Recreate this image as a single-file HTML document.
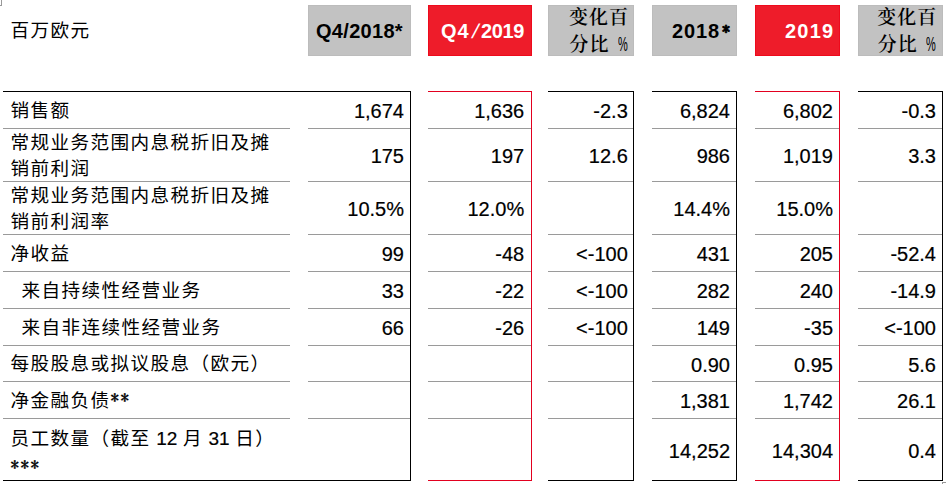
<!DOCTYPE html>
<html lang="zh"><head><meta charset="utf-8"><title>财务数据</title>
<style>
html,body{margin:0;padding:0;background:#fff}
body{width:946px;height:484px;position:relative;overflow:hidden;font-family:"Liberation Sans","Noto Sans CJK SC",sans-serif;color:#000}
.a{position:absolute}
.hl{position:absolute;height:1px}
.vl{position:absolute;width:1px}
.hd{position:absolute;top:5px;height:51px;box-sizing:border-box}
.hd.g{background:#c2c2c2;border:1px solid #bcbcbc}
.hd.r{background:#ee1c2a;border:1px solid #ee0a1c}
.ht{position:absolute;white-space:nowrap;font-weight:bold;font-size:20px;line-height:20px}
.hd.r .ht{color:#fff}
.sl{display:inline-block;font-weight:normal;transform:skewX(-13deg) scaleX(1.1);margin:0 2.7px 0 4px;letter-spacing:0}
.bs{font-family:"IPAGothic","Liberation Sans",sans-serif;font-weight:normal;font-size:16px;line-height:0;-webkit-text-stroke:.9px #000;position:relative;top:-3.5px;margin-left:2px;letter-spacing:0}
.hc{position:absolute;right:6px;white-space:nowrap;font-size:20px;line-height:26px;text-align:right;font-weight:600;word-spacing:3px;font-family:"Liberation Sans","Noto Serif CJK SC",serif}
.cj{font-size:19px;letter-spacing:1px}
.cj.e{margin-right:-1px}
.n{position:absolute;white-space:nowrap;font-size:20px;line-height:20px;text-align:right;-webkit-text-stroke:.2px #000}
.l{position:absolute;left:10.6px;white-space:nowrap;font-size:18.6px;letter-spacing:1.4px;line-height:26px}
.ind{display:inline-block;width:11px}
.dg{position:relative;top:0;font-size:19px;letter-spacing:0;-webkit-text-stroke:.2px #000}
.ast{font-family:"IPAGothic","Liberation Sans",sans-serif;font-size:17px;letter-spacing:1.5px;line-height:0;position:relative;top:-3px;-webkit-text-stroke:.35px #000}
.pc{display:inline-block;width:10px;height:20px;vertical-align:top;position:relative;font-weight:normal}
.pc i{position:absolute;left:0;top:-.5px;font-style:normal;transform:scaleX(.55);transform-origin:0 50%}

</style></head><body>
<div class="a" style="left:1px;top:0;width:1px;height:6px;background:#999"></div><div class="a" style="left:0;top:5px;width:2px;height:1px;background:#999"></div>
<div class="a" style="left:942px;top:482px;width:4px;height:1px;background:#999"></div><div class="a" style="left:942px;top:482px;width:1px;height:2px;background:#999"></div>
<div class="thead">
<div class="l" style="top:18px;line-height:26px">百万欧元</div>
<div class="hd g" style="left:308px;width:103px"><div class="ht" style="left:7px;top:15px;letter-spacing:0.3px">Q4/2018*</div></div>
<div class="hd r" style="left:428px;width:104px"><div class="ht" style="left:12px;top:15px;letter-spacing:0px"><span style="letter-spacing:1px">Q</span>4<span class="sl">/</span><span style="letter-spacing:-.35px">2019</span></div></div>
<div class="hd g" style="left:548px;width:86px"><div class="hc" style="top:-2px;right:5px"><span class="cj e">变化百</span><br><span class="cj">分比</span> <span class="pc"><i>%</i></span></div></div>
<div class="hd g" style="left:652px;width:85px"><div class="ht" style="left:19px;top:15px;letter-spacing:0.9px">2018<span class="bs">*</span></div></div>
<div class="hd r" style="left:755px;width:85px"><div class="ht" style="left:29px;top:15px;letter-spacing:1.2px">2019</div></div>
<div class="hd g" style="left:858px;width:85px"><div class="hc" style="top:-2px;right:5.7px"><span class="cj e">变化百</span><br><span class="cj">分比</span> <span class="pc"><i>%</i></span></div></div>
</div>
<div class="grid">
<div class="hl" style="left:3px;width:408px;top:91px;background:#000"></div>
<div class="hl" style="left:3px;width:287px;top:128px;background:#9a9a9a"></div>
<div class="hl" style="left:3px;width:287px;top:181px;background:#9a9a9a"></div>
<div class="hl" style="left:3px;width:287px;top:234px;background:#9a9a9a"></div>
<div class="hl" style="left:3px;width:287px;top:271px;background:#9a9a9a"></div>
<div class="hl" style="left:3px;width:287px;top:308px;background:#9a9a9a"></div>
<div class="hl" style="left:3px;width:287px;top:345px;background:#9a9a9a"></div>
<div class="hl" style="left:3px;width:287px;top:381px;background:#9a9a9a"></div>
<div class="hl" style="left:3px;width:287px;top:418px;background:#9a9a9a"></div>
<div class="hl" style="left:3px;width:408px;top:480px;background:#000"></div>
<div class="hl" style="left:308px;width:102px;top:128px;background:#9a9a9a"></div>
<div class="hl" style="left:308px;width:102px;top:181px;background:#9a9a9a"></div>
<div class="hl" style="left:308px;width:102px;top:234px;background:#9a9a9a"></div>
<div class="hl" style="left:308px;width:102px;top:271px;background:#9a9a9a"></div>
<div class="hl" style="left:308px;width:102px;top:308px;background:#9a9a9a"></div>
<div class="hl" style="left:308px;width:102px;top:345px;background:#9a9a9a"></div>
<div class="hl" style="left:308px;width:102px;top:381px;background:#9a9a9a"></div>
<div class="hl" style="left:308px;width:102px;top:418px;background:#9a9a9a"></div>
<div class="vl" style="left:410px;top:91px;height:390px;background:#000"></div>
<div class="hl" style="left:428px;width:104px;top:91px;background:#e2001f"></div>
<div class="hl" style="left:428px;width:103px;top:128px;background:#9a9a9a"></div>
<div class="hl" style="left:428px;width:103px;top:181px;background:#9a9a9a"></div>
<div class="hl" style="left:428px;width:103px;top:234px;background:#9a9a9a"></div>
<div class="hl" style="left:428px;width:103px;top:271px;background:#9a9a9a"></div>
<div class="hl" style="left:428px;width:103px;top:308px;background:#9a9a9a"></div>
<div class="hl" style="left:428px;width:103px;top:345px;background:#9a9a9a"></div>
<div class="hl" style="left:428px;width:103px;top:381px;background:#9a9a9a"></div>
<div class="hl" style="left:428px;width:103px;top:418px;background:#9a9a9a"></div>
<div class="hl" style="left:428px;width:104px;top:480px;background:#e2001f"></div>
<div class="vl" style="left:531px;top:91px;height:390px;background:#e2001f"></div>
<div class="hl" style="left:548px;width:86px;top:91px;background:#000"></div>
<div class="hl" style="left:548px;width:85px;top:128px;background:#9a9a9a"></div>
<div class="hl" style="left:548px;width:85px;top:181px;background:#9a9a9a"></div>
<div class="hl" style="left:548px;width:85px;top:234px;background:#9a9a9a"></div>
<div class="hl" style="left:548px;width:85px;top:271px;background:#9a9a9a"></div>
<div class="hl" style="left:548px;width:85px;top:308px;background:#9a9a9a"></div>
<div class="hl" style="left:548px;width:85px;top:345px;background:#9a9a9a"></div>
<div class="hl" style="left:548px;width:85px;top:381px;background:#9a9a9a"></div>
<div class="hl" style="left:548px;width:85px;top:418px;background:#9a9a9a"></div>
<div class="hl" style="left:548px;width:86px;top:480px;background:#000"></div>
<div class="vl" style="left:633px;top:91px;height:390px;background:#000"></div>
<div class="hl" style="left:652px;width:85px;top:91px;background:#000"></div>
<div class="hl" style="left:652px;width:84px;top:128px;background:#9a9a9a"></div>
<div class="hl" style="left:652px;width:84px;top:181px;background:#9a9a9a"></div>
<div class="hl" style="left:652px;width:84px;top:234px;background:#9a9a9a"></div>
<div class="hl" style="left:652px;width:84px;top:271px;background:#9a9a9a"></div>
<div class="hl" style="left:652px;width:84px;top:308px;background:#9a9a9a"></div>
<div class="hl" style="left:652px;width:84px;top:345px;background:#9a9a9a"></div>
<div class="hl" style="left:652px;width:84px;top:381px;background:#9a9a9a"></div>
<div class="hl" style="left:652px;width:84px;top:418px;background:#9a9a9a"></div>
<div class="hl" style="left:652px;width:85px;top:480px;background:#000"></div>
<div class="vl" style="left:736px;top:91px;height:390px;background:#000"></div>
<div class="hl" style="left:755px;width:85px;top:91px;background:#e2001f"></div>
<div class="hl" style="left:755px;width:84px;top:128px;background:#9a9a9a"></div>
<div class="hl" style="left:755px;width:84px;top:181px;background:#9a9a9a"></div>
<div class="hl" style="left:755px;width:84px;top:234px;background:#9a9a9a"></div>
<div class="hl" style="left:755px;width:84px;top:271px;background:#9a9a9a"></div>
<div class="hl" style="left:755px;width:84px;top:308px;background:#9a9a9a"></div>
<div class="hl" style="left:755px;width:84px;top:345px;background:#9a9a9a"></div>
<div class="hl" style="left:755px;width:84px;top:381px;background:#9a9a9a"></div>
<div class="hl" style="left:755px;width:84px;top:418px;background:#9a9a9a"></div>
<div class="hl" style="left:755px;width:85px;top:480px;background:#e2001f"></div>
<div class="vl" style="left:839px;top:91px;height:390px;background:#e2001f"></div>
<div class="hl" style="left:858px;width:85px;top:91px;background:#000"></div>
<div class="hl" style="left:858px;width:84px;top:128px;background:#9a9a9a"></div>
<div class="hl" style="left:858px;width:84px;top:181px;background:#9a9a9a"></div>
<div class="hl" style="left:858px;width:84px;top:234px;background:#9a9a9a"></div>
<div class="hl" style="left:858px;width:84px;top:271px;background:#9a9a9a"></div>
<div class="hl" style="left:858px;width:84px;top:308px;background:#9a9a9a"></div>
<div class="hl" style="left:858px;width:84px;top:345px;background:#9a9a9a"></div>
<div class="hl" style="left:858px;width:84px;top:381px;background:#9a9a9a"></div>
<div class="hl" style="left:858px;width:84px;top:418px;background:#9a9a9a"></div>
<div class="hl" style="left:858px;width:85px;top:480px;background:#000"></div>
<div class="vl" style="left:942px;top:91px;height:390px;background:#000"></div>
</div>
<div class="row">
<div class="l" style="top:97.5px">销售额</div>
<div class="n" style="left:308px;width:96px;top:101px">1,674</div>
<div class="n" style="left:428px;width:96.2px;top:101px">1,636</div>
<div class="n" style="left:548px;width:79.8px;top:101px">-2.3</div>
<div class="n" style="left:652px;width:78px;top:101px">6,824</div>
<div class="n" style="left:755px;width:78px;top:101px">6,802</div>
<div class="n" style="left:858px;width:78px;top:101px">-0.3</div>
</div>
<div class="row">
<div class="l" style="top:129.5px">常规业务范围内息税折旧及摊<br>销前利润</div>
<div class="n" style="left:308px;width:96px;top:146px">175</div>
<div class="n" style="left:428px;width:96.2px;top:146px">197</div>
<div class="n" style="left:548px;width:79.8px;top:146px">12.6</div>
<div class="n" style="left:652px;width:78px;top:146px">986</div>
<div class="n" style="left:755px;width:78px;top:146px">1,019</div>
<div class="n" style="left:858px;width:78px;top:146px">3.3</div>
</div>
<div class="row">
<div class="l" style="top:182.5px">常规业务范围内息税折旧及摊<br>销前利润率</div>
<div class="n" style="left:308px;width:96px;top:199px">10.5%</div>
<div class="n" style="left:428px;width:96.2px;top:199px">12.0%</div>
<div class="n" style="left:652px;width:78px;top:199px">14.4%</div>
<div class="n" style="left:755px;width:78px;top:199px">15.0%</div>
</div>
<div class="row">
<div class="l" style="top:240.5px">净收益</div>
<div class="n" style="left:308px;width:96px;top:244px">99</div>
<div class="n" style="left:428px;width:96.2px;top:244px">-48</div>
<div class="n" style="left:548px;width:79.8px;top:244px">&lt;-100</div>
<div class="n" style="left:652px;width:78px;top:244px">431</div>
<div class="n" style="left:755px;width:78px;top:244px">205</div>
<div class="n" style="left:858px;width:78px;top:244px">-52.4</div>
</div>
<div class="row">
<div class="l" style="top:277.5px"><span class="ind"></span>来自持续性经营业务</div>
<div class="n" style="left:308px;width:96px;top:281px">33</div>
<div class="n" style="left:428px;width:96.2px;top:281px">-22</div>
<div class="n" style="left:548px;width:79.8px;top:281px">&lt;-100</div>
<div class="n" style="left:652px;width:78px;top:281px">282</div>
<div class="n" style="left:755px;width:78px;top:281px">240</div>
<div class="n" style="left:858px;width:78px;top:281px">-14.9</div>
</div>
<div class="row">
<div class="l" style="top:314.5px"><span class="ind"></span>来自非连续性经营业务</div>
<div class="n" style="left:308px;width:96px;top:318px">66</div>
<div class="n" style="left:428px;width:96.2px;top:318px">-26</div>
<div class="n" style="left:548px;width:79.8px;top:318px">&lt;-100</div>
<div class="n" style="left:652px;width:78px;top:318px">149</div>
<div class="n" style="left:755px;width:78px;top:318px">-35</div>
<div class="n" style="left:858px;width:78px;top:318px">&lt;-100</div>
</div>
<div class="row">
<div class="l" style="top:351px">每股股息或拟议股息（欧元）</div>
<div class="n" style="left:652px;width:78px;top:354.5px">0.90</div>
<div class="n" style="left:755px;width:78px;top:354.5px">0.95</div>
<div class="n" style="left:858px;width:78px;top:354.5px">5.6</div>
</div>
<div class="row">
<div class="l" style="top:387.5px">净金融负债<span class="ast">**</span></div>
<div class="n" style="left:652px;width:78px;top:391px">1,381</div>
<div class="n" style="left:755px;width:78px;top:391px">1,742</div>
<div class="n" style="left:858px;width:78px;top:391px">26.1</div>
</div>
<div class="row">
<div class="l" style="top:424.2px;line-height:29px"><span style="word-spacing:-.95px">员工数量（截至 <span class="dg">12</span> 月 <span class="dg">31</span> 日）</span><br><span class="ast">***</span></div>
<div class="n" style="left:652px;width:78px;top:440.5px">14,252</div>
<div class="n" style="left:755px;width:78px;top:440.5px">14,304</div>
<div class="n" style="left:858px;width:78px;top:440.5px">0.4</div>
</div>
</body></html>
